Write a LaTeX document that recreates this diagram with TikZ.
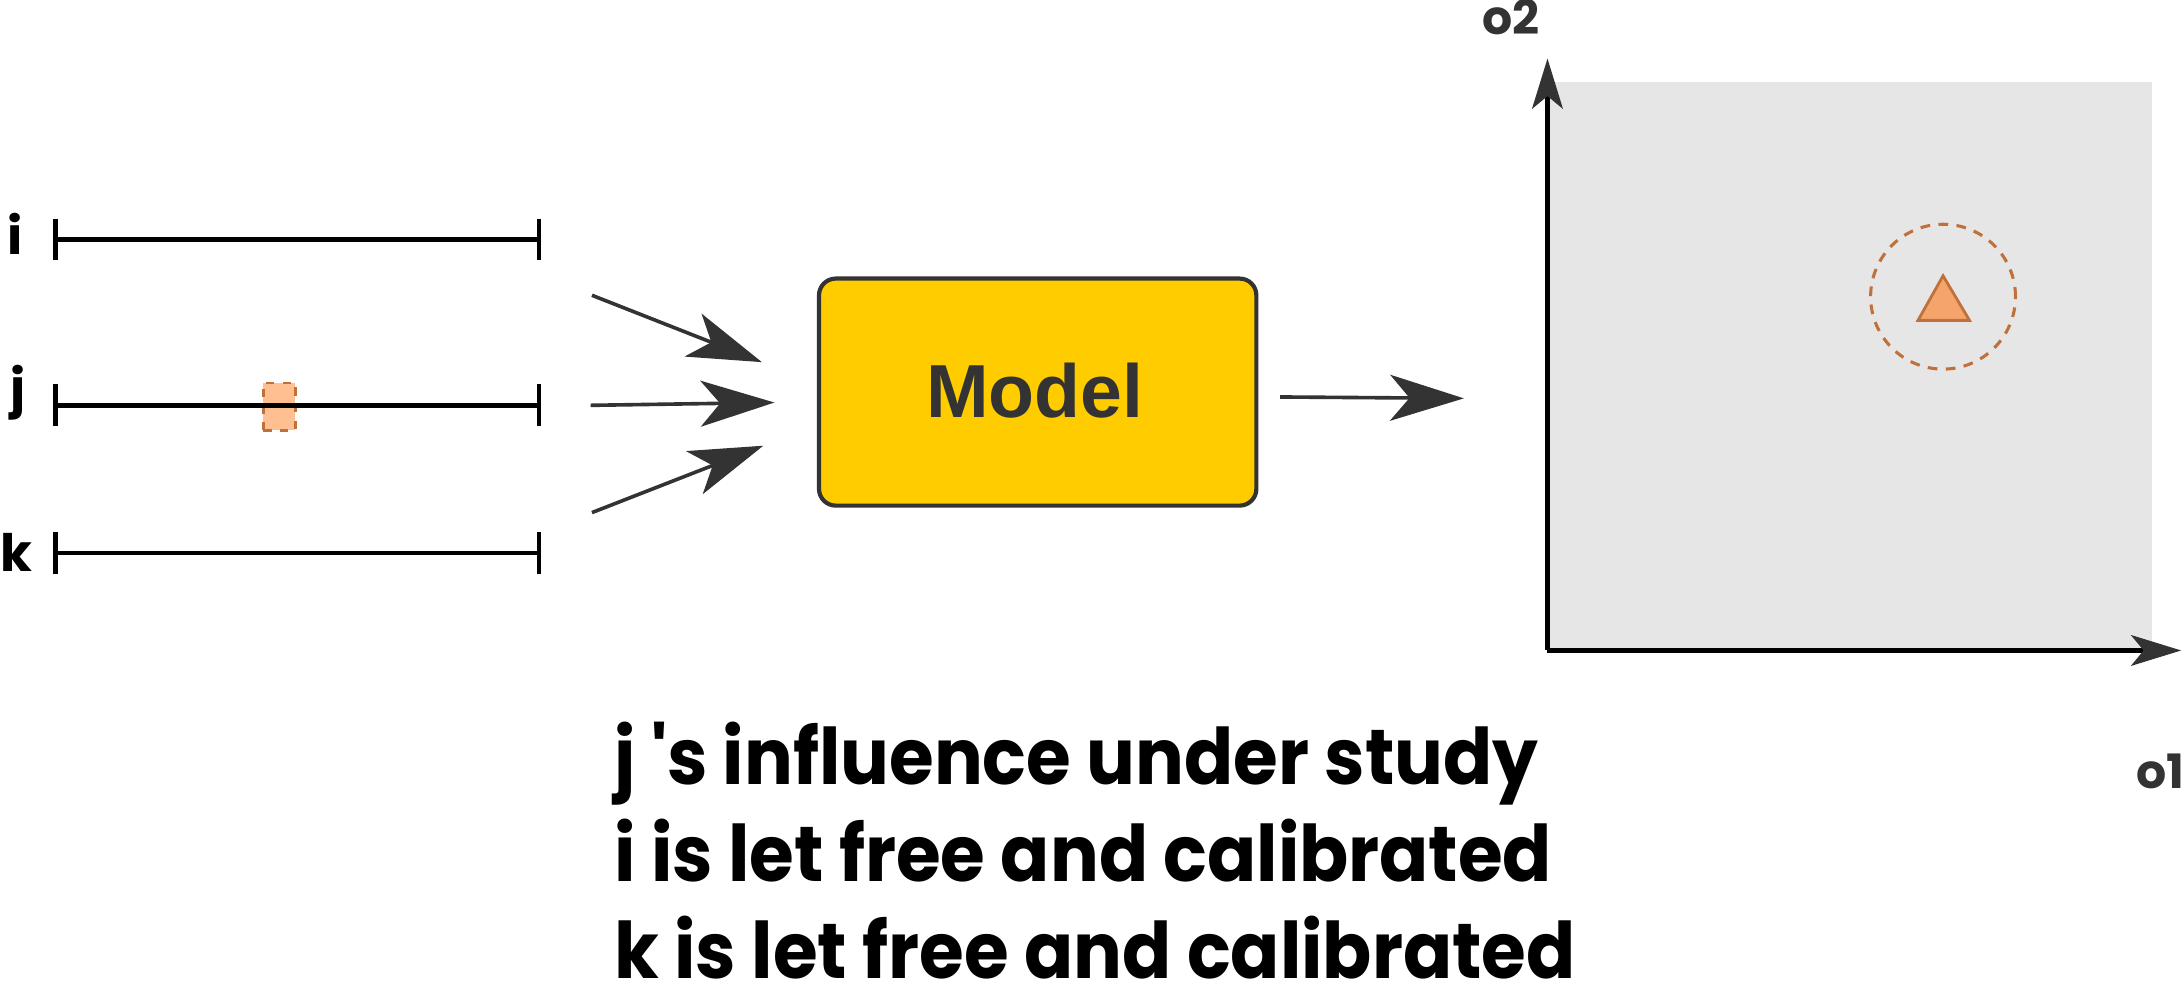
\documentclass[tikz,border=0pt]{standalone}
\usepackage{fontspec}
\usetikzlibrary{arrows.meta}
\newfontfamily\popfont{Poppins}
\newfontfamily\helfont{Liberation Sans}
\newlength\capnatw
\settowidth\capnatw{\popfont\bfseries\fontsize{56}{66}\selectfont k is let free and calibrated}
\pgfmathsetmacro\capstretch{690/\capnatw}
\edef\capopts{FakeStretch=\capstretch}
\expandafter\newfontfamily\expandafter\capfont\expandafter[\capopts]{Poppins}
\definecolor{dark}{HTML}{333333}
\definecolor{modelyellow}{HTML}{FFCC00}
\definecolor{plotgray}{HTML}{E6E6E6}
\definecolor{rustline}{HTML}{C0703A}
\definecolor{peach}{HTML}{FFBF91}
\definecolor{triorange}{HTML}{F5A46C}
\tikzset{
  bar/.style={line width=3.2pt, black},
  tick/.style={line width=3.2pt, black},
  flow/.style={line width=2.6pt, dark, -{Stealth[length=53pt, width=33pt, inset=14pt]}},
  axis/.style={line width=3.2pt, black, -{Stealth[length=36pt, width=22pt, inset=9pt, color=dark]}},
  varlabel/.style={font=\popfont\bfseries\fontsize{37}{42}\selectfont, inner sep=0pt, anchor=base},
  axlabel/.style={font=\popfont\bfseries\fontsize{34}{40}\selectfont, text=dark, inner sep=0pt, anchor=base},
  caption/.style={font=\capfont\bfseries\fontsize{56}{66}\selectfont, inner sep=0pt, anchor=base west},
  modelbox/.style={draw=dark, line width=3pt, fill=modelyellow, rounded corners=12pt, minimum width=314pt, minimum height=163pt, inner sep=0pt},
}
\begin{document}
\begin{tikzpicture}[x=1pt, y=-1pt]
\useasboundingbox (0,0) rectangle (1568,706.5);
% variable labels
\node[varlabel] (li) at (11,183) {i};
\node[varlabel] (lj) at (13,292) {j};
\node[varlabel] (lk) at (12,410) {k};
% bars
\coordinate (ia) at (40,172); \coordinate (ib) at (387,172);
\coordinate (ja) at (40,291); \coordinate (jb) at (387,291);
\coordinate (ka) at (40,397); \coordinate (kb) at (387,397);
% highlight on j
\node[draw=rustline, dashed, dash pattern=on 6pt off 6pt, line width=2pt, fill=peach, minimum width=23pt, minimum height=34pt, inner sep=0pt] (jsel) at (200.5,292) {};
\foreach \a/\b in {ia/ib, ja/jb, ka/kb} {
  \draw[bar] (\a) -- (\b);
  \draw[tick] ([yshift=-15pt]\a) -- ([yshift=15pt]\a);
  \draw[tick] ([yshift=-15pt]\b) -- ([yshift=15pt]\b);
}
% model
\node[modelbox] (model) at (745,281.5) {};
\node[font=\helfont\bfseries\fontsize{54}{60}\selectfont, text=dark, inner sep=0pt, anchor=base] (mtext) at (743,300) {Model};
% input arrows
\coordinate (s1) at (425,212); \coordinate (t1) at (547,260);
\coordinate (s2) at (424,291); \coordinate (t2) at (556,289);
\coordinate (s3) at (425,368); \coordinate (t3) at (548,320);
\draw[flow] (s1) -- (t1);
\draw[flow] (s2) -- (t2);
\draw[flow] (s3) -- (t3);
% output arrow
\coordinate (s4) at (919,285); \coordinate (t4) at (1051,286);
\draw[flow] (s4) -- (t4);
% plot
\fill[plotgray] (1111,59) rectangle (1545,467);
\coordinate (origin) at (1111,467);
\coordinate (ytip) at (1111,42);
\coordinate (xtip) at (1566,467);
\draw[axis] (origin) -- (ytip);
\draw[axis] (origin) -- (xtip);
\node[axlabel] (o2) at (1085,25) {o2};
\node[axlabel] (o1) at (1551,566) {o1};
% target
\node[draw=rustline, dashed, dash pattern=on 7pt off 6pt, line width=2.2pt, circle, minimum size=104pt, inner sep=0pt] (zone) at (1395,213) {};
\coordinate (tA) at (1395,198); \coordinate (tB) at (1414,230); \coordinate (tC) at (1377,230);
\filldraw[fill=triorange, draw=rustline, line width=2pt, line join=miter] (tA) -- (tB) -- (tC) -- cycle;
% caption
\node[caption] (c1) at (441,563) {j 's influence under study};
\node[caption] (c2) at (441,633) {i is let free and calibrated};
\node[caption] (c3) at (441,702.5) {k is let free and calibrated};
\end{tikzpicture}
\end{document}
